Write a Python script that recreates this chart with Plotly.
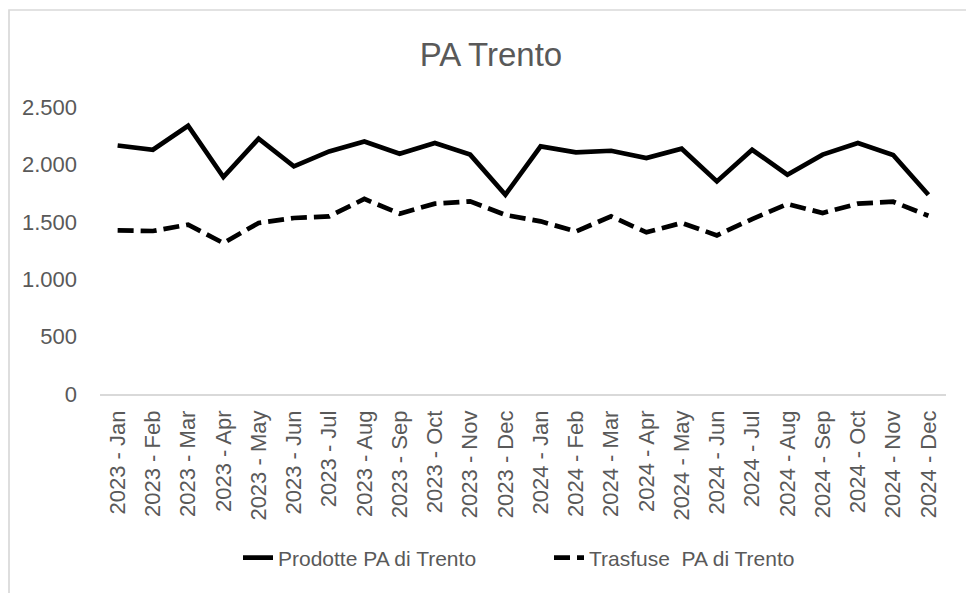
import plotly.graph_objects as go

months = ["Jan", "Feb", "Mar", "Apr", "May", "Jun", "Jul", "Aug", "Sep", "Oct", "Nov", "Dec"]
categories = [f"{y} - {m}" for y in (2023, 2024) for m in months]

prodotte = [2165, 2128, 2337, 1890, 2224, 1983, 2113, 2200, 2093, 2186, 2085, 1736,
            2157, 2105, 2119, 2056, 2137, 1852, 2128, 1910, 2085, 2186, 2082, 1736]
trasfuse = [1425, 1420, 1475, 1315, 1490, 1533, 1547, 1699, 1571, 1658, 1678, 1560,
            1504, 1416, 1547, 1408, 1490, 1382, 1524, 1655, 1577, 1658, 1675, 1553]

name_prod = "Prodotte PA di Trento"
name_tras = "Trasfuse  PA di Trento"
title_text = "PA Trento"
y_ticks = [0, 500, 1000, 1500, 2000, 2500]

FONT = "Liberation Sans, Arial, sans-serif"
GRAY = "#595959"

# the page body has an 8px margin, so the figure is drawn 8px smaller and all
# reference pixel positions are shifted by this offset
OFF = 8
W, H = 974 - OFF, 593 - OFF
ML, MT = 100 - OFF, 107 - OFF
PR, PB = 946 - OFF, 394 - OFF
MR, MB = W - PR, H - PB
PW, PH = PR - ML, PB - MT


def px_x(p):
    return (p - OFF - ML) / PW


def px_y(p):
    return (PB - (p - OFF)) / PH


fig = go.Figure()
fig.add_trace(go.Scatter(x=categories, y=prodotte, mode="lines", name=name_prod,
                         line=dict(color="black", width=4.7)))
fig.add_trace(go.Scatter(x=categories, y=trasfuse, mode="lines", name=name_tras,
                         line=dict(color="black", width=4.7, dash="16px,7px")))

fig.update_layout(
    width=W, height=H,
    margin=dict(l=ML, r=MR, t=MT, b=MB, pad=0),
    paper_bgcolor="white", plot_bgcolor="white",
    separators=",.",
    font=dict(family=FONT, color=GRAY),
    title=dict(text=title_text, x=(491 - OFF) / W, xanchor="center", y=1 - (54 - OFF) / H,
               yanchor="middle", font=dict(size=33, color=GRAY, family=FONT)),
    showlegend=True,
    legend=dict(orientation="h", x=px_x(238), xanchor="left", y=px_y(558), yanchor="middle",
                font=dict(size=21, color=GRAY, family=FONT), entrywidth=266,
                bgcolor="rgba(0,0,0,0)"),
    shapes=[dict(type="rect", xref="paper", yref="paper",
                 x0=px_x(9), x1=px_x(1000), y0=px_y(620), y1=px_y(10),
                 line=dict(color="#d9d9d9", width=1.7), fillcolor="rgba(0,0,0,0)", layer="below")],
)

fig.update_xaxes(type="category", range=[-0.5, len(categories) - 0.5], showgrid=False,
                 showline=True, linecolor="#d9d9d9", linewidth=1.5,
                 ticks="", tickangle=-90, tickfont=dict(size=22, color=GRAY, family=FONT),
                 ticklabelstandoff=6, zeroline=False, automargin=False)
fig.update_yaxes(range=[0, 2500], tickvals=y_ticks, tickformat=",d", showgrid=False, showline=False,
                 zeroline=False, ticks="", tickfont=dict(size=22, color=GRAY, family=FONT),
                 ticklabelstandoff=22, automargin=False)

fig.write_html("out.html")
